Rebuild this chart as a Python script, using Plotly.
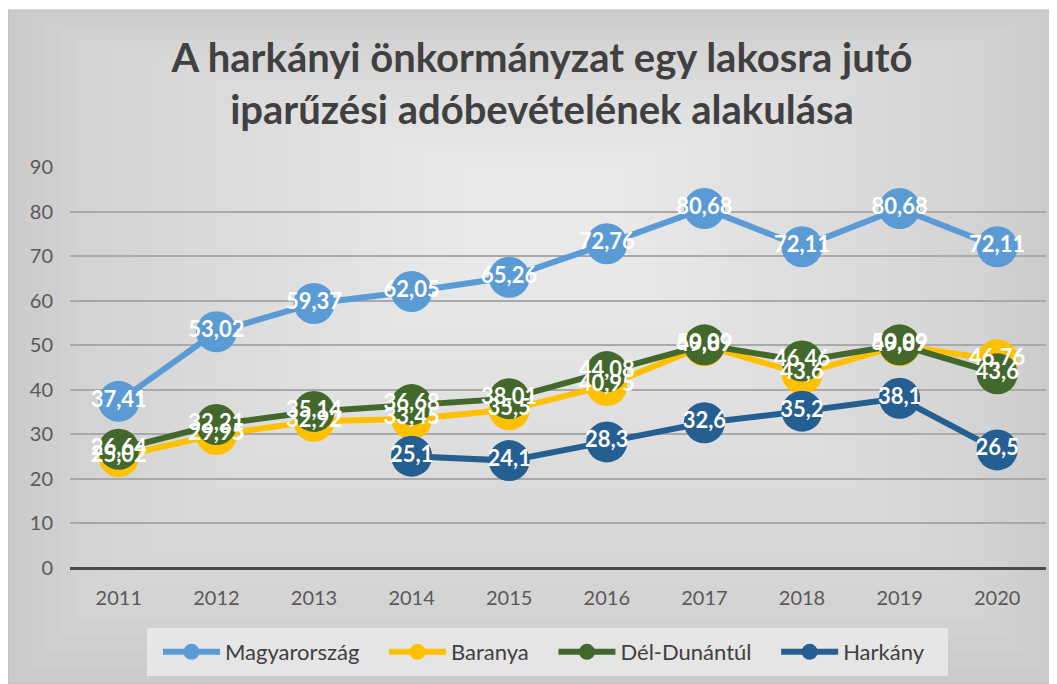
import plotly.graph_objects as go

years = ["2011", "2012", "2013", "2014", "2015", "2016", "2017", "2018", "2019", "2020"]
magyarorszag = [37.41, 53.02, 59.37, 62.05, 65.26, 72.76, 80.68, 72.11, 80.68, 72.11]
baranya = [25.02, 29.95, 32.92, 33.45, 35.5, 40.95, 49.89, 43.6, 49.89, 46.76]
del_dunantul = [26.64, 32.21, 35.14, 36.68, 38.01, 44.08, 50.09, 46.46, 50.09, 43.6]
harkany = [None, None, None, 25.1, 24.1, 28.3, 32.6, 35.2, 38.1, 26.5]

series = [
    ("Magyarország", magyarorszag, "#5B9BD5"),
    ("Baranya", baranya, "#FFC000"),
    ("Dél-Dunántúl", del_dunantul, "#43682B"),
    ("Harkány", harkany, "#255E91"),
]


def fmt(v):
    if v is None:
        return ""
    return f"{v:g}".replace(".", ",")


FONT = "Lato"
PAD = "\u00a0" * 3 + "\u2009"  # extra room between legend entries
fig = go.Figure()

# lines + markers
for name, vals, color in series:
    fig.add_trace(go.Scatter(
        x=years, y=vals, name=name + PAD, mode="lines+markers",
        line=dict(color=color, width=6),
        marker=dict(color=color, size=41),
    ))

# data labels drawn after all markers so they stay on top
for name, vals, color in series:
    fig.add_trace(go.Scatter(
        x=years, y=vals, mode="text", showlegend=False,
        text=[fmt(v) for v in vals], textposition="middle center",
        textfont=dict(family=FONT, size=22, color="white", weight="bold"),
        hoverinfo="skip",
    ))

# page has an 8px body margin, so figure coords = page coords - 8
OFF = 8
FW, FH = 1057 - OFF, 684 - OFF
L, W, T, H = 70 - OFF, 976, 167 - OFF, 401


def px(x):
    return (x - OFF - L) / W


def py(y):
    return (T + H - (y - OFF)) / H


# background frame with a soft radial-ish gradient (nested translucent rects)
shapes = [
    dict(type="rect", xref="paper", yref="paper", layer="below",
         x0=px(OFF), x1=px(1057), y0=py(684), y1=py(10),
         fillcolor="#cbcbcb", line=dict(color="#bdbdbd", width=1)),
]
cx, cy = 545, 190
N = 30
for i in range(1, N + 1):
    f = i / (N + 1)
    x0 = OFF + (cx - OFF) * f
    x1 = 1057 - (1057 - cx) * f
    y0 = 10 + (cy - 10) * f
    y1 = 684 - (684 - cy) * f
    shapes.append(dict(type="rect", xref="paper", yref="paper", layer="below",
                       x0=px(x0), x1=px(x1), y0=py(y1), y1=py(y0),
                       fillcolor="rgba(255,255,255,0.042)", line=dict(width=0)))
shapes.append(dict(type="rect", xref="paper", yref="paper", layer="below",
                   x0=px(147), x1=px(948), y0=py(676), y1=py(628),
                   fillcolor="rgba(232,232,232,0.9)", line=dict(width=0)))

fig.update_layout(
    width=FW, height=FH,
    margin=dict(l=L, r=FW - L - W, t=T, b=FH - T - H),
    paper_bgcolor="white",
    plot_bgcolor="rgba(0,0,0,0)",
    font=dict(family=FONT, color="#595959"),
    title=dict(
        text="A harkányi önkormányzat egy lakosra jutó<br>iparűzési adóbevételének alakulása",
        x=(542 - OFF) / FW, xanchor="center", y=0.905, yanchor="top", yref="container",
        font=dict(family=FONT, size=40, color="#404040", weight="bold"),
    ),
    xaxis=dict(
        type="category", range=[-0.5, 9.5], showgrid=False, showline=False, ticks="",
        tickfont=dict(size=20, color="#595959"), ticklabelstandoff=16,
    ),
    yaxis=dict(
        range=[0, 90], dtick=10, showgrid=True, gridcolor="#a9a9a9", gridwidth=1.5,
        zeroline=True, zerolinecolor="#4a4a4a", zerolinewidth=2.5,
        tickfont=dict(size=20, color="#595959"), ticks="", ticklabelstandoff=16,
    ),
    legend=dict(
        orientation="h", x=px(158), xanchor="left", y=py(652), yanchor="middle",
        bgcolor="rgba(0,0,0,0)", font=dict(size=22, color="#404040"),
        itemwidth=57,
    ),
    shapes=shapes,
    showlegend=True,
)

fig.write_html("out.html")
